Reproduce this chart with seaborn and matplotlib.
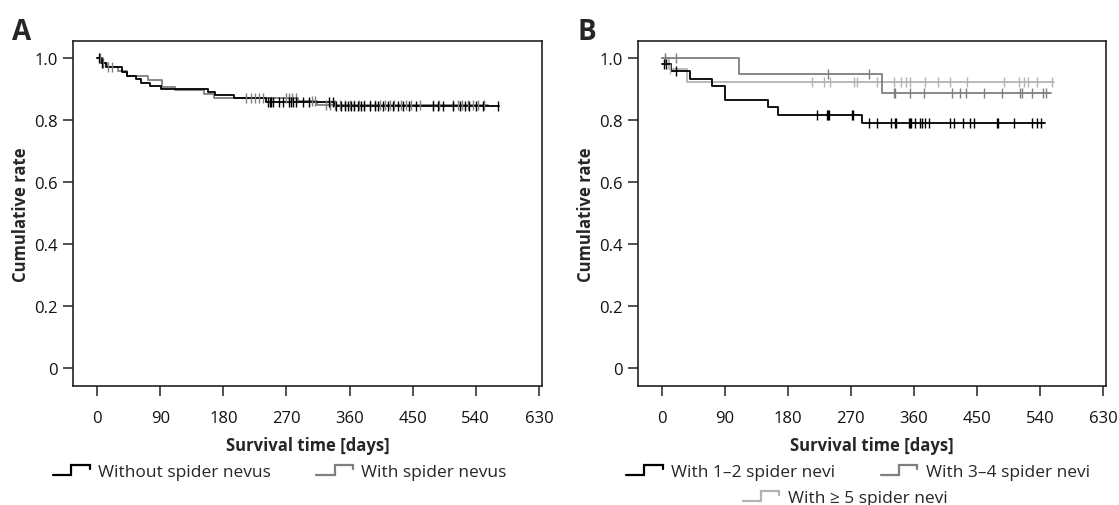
import numpy as np
import matplotlib
matplotlib.use("Agg")
import matplotlib.pyplot as plt
import seaborn as sns
from matplotlib.legend_handler import HandlerBase
from matplotlib.lines import Line2D

# ---------------- data ----------------
# Panel A
a_without_times = [0, 5, 12, 35, 43, 56, 63, 75, 91, 158, 168, 195, 241, 339]
a_without_surv = [1.0, 0.985, 0.971, 0.957, 0.943, 0.933, 0.922, 0.912, 0.900, 0.890, 0.882, 0.871, 0.860, 0.845]
a_without_end = 573
a_without_cens = [3, 7, 243, 246, 248, 251, 260, 265, 274, 277, 280, 284, 294, 302, 331,
                  336, 341, 348, 354, 358, 362, 367, 372, 377, 381, 389, 396, 400, 408, 415,
                  422, 429, 436, 445, 455, 479, 486, 493, 507, 517, 524, 531, 540, 550, 572]

a_with_times = [0, 8, 14, 30, 43, 73, 93, 111, 153, 167, 287, 313]
a_with_surv = [1.0, 0.985, 0.971, 0.960, 0.944, 0.930, 0.906, 0.899, 0.885, 0.873, 0.864, 0.849]
a_with_end = 557
a_with_cens = [4, 8, 16, 21, 213, 219, 225, 231, 236, 270, 274, 278, 283, 306, 310,
               327, 332, 339, 346, 353, 360, 367, 374, 381, 389, 396, 403, 410, 417, 424,
               434, 441, 448, 460, 479, 488, 507, 514, 521, 529, 536, 543, 552]

# Panel B
b_12_times = [0, 14, 41, 72, 90, 152, 166, 286]
b_12_surv = [0.982, 0.960, 0.933, 0.912, 0.865, 0.842, 0.818, 0.790]
b_12_end = 547
b_12_cens = [3, 7, 20, 222, 236, 238, 239, 272, 273, 296, 308, 327, 333, 334, 353, 354, 356,
             362, 369, 372, 376, 381, 411, 417, 430, 440, 446, 478, 480, 503, 528, 535, 541]

b_34_times = [0, 111, 314]
b_34_surv = [1.0, 0.949, 0.888]
b_34_end = 555
b_34_cens = [5, 20, 238, 296, 332, 333, 355, 374, 414, 426, 434, 460, 485, 511, 514, 529, 544, 549]

b_5_times = [0, 10, 36]
b_5_surv = [1.0, 0.965, 0.925]
b_5_end = 560
b_5_cens = [5, 12, 215, 232, 240, 274, 279, 308, 332, 341, 349, 355, 376, 395, 411, 436,
            489, 510, 517, 523, 536, 557]

x_ticks = [0, 90, 180, 270, 360, 450, 540, 630]
y_ticks = [0, 0.2, 0.4, 0.6, 0.8, 1.0]
y_tick_labels = ["0", "0.2", "0.4", "0.6", "0.8", "1.0"]

legend_a = ["Without spider nevus", "With spider nevus"]
legend_b = ["With 1\u20132 spider nevi", "With 3\u20134 spider nevi", "With \u2265 5 spider nevi"]

BLACK = "#000000"
GRAY = "#7f7f7f"
LIGHT = "#b3b3b3"

# ---------------- style ----------------
sns.set_style("ticks")
plt.rcParams["font.family"] = ["Open Sans", "DejaVu Sans"]
plt.rcParams["axes.edgecolor"] = "#222222"
plt.rcParams["axes.linewidth"] = 1.2
plt.rcParams["xtick.color"] = "#222222"
plt.rcParams["ytick.color"] = "#222222"
plt.rcParams["xtick.labelcolor"] = "#111111"
plt.rcParams["ytick.labelcolor"] = "#111111"

fig = plt.figure(figsize=(11.19, 5.06), dpi=100)
axA = fig.add_axes([0.0655, 0.2346, 0.4186, 0.6818])
axB = fig.add_axes([0.5699, 0.2346, 0.4185, 0.6818])


def draw_curve(ax, times, surv, end, cens, color):
    x = list(times) + [end]
    y = list(surv) + [surv[-1]]
    sns.lineplot(x=x, y=y, ax=ax, color=color, linewidth=1.3,
                 drawstyle="steps-post", estimator=None, sort=False)
    idx = np.searchsorted(np.asarray(times), np.asarray(cens), side="right") - 1
    cy = np.asarray(surv)[idx]
    sns.scatterplot(x=cens, y=cy, ax=ax, marker="|", s=45, color=color,
                    linewidth=1.0, zorder=3)


draw_curve(axA, a_with_times, a_with_surv, a_with_end, a_with_cens, GRAY)
draw_curve(axA, a_without_times, a_without_surv, a_without_end, a_without_cens, BLACK)

draw_curve(axB, b_5_times, b_5_surv, b_5_end, b_5_cens, LIGHT)
draw_curve(axB, b_34_times, b_34_surv, b_34_end, b_34_cens, GRAY)
draw_curve(axB, b_12_times, b_12_surv, b_12_end, b_12_cens, BLACK)

for ax in (axA, axB):
    ax.set_xlim(-34, 634)
    ax.set_ylim(-0.058, 1.055)
    ax.set_xticks(x_ticks)
    ax.set_xticklabels([str(t) for t in x_ticks])
    ax.set_yticks(y_ticks)
    ax.set_yticklabels(y_tick_labels)
    ax.tick_params(axis="x", direction="out", length=7, width=1.1, pad=10, labelsize=12)
    ax.tick_params(axis="y", direction="out", length=7, width=1.1, pad=4, labelsize=12)
    ax.set_xlabel("Survival time [days]", fontsize=12, fontweight="bold", labelpad=7)
    ax.set_ylabel("Cumulative rate", fontsize=12, fontweight="bold", labelpad=3)
    for sp in ax.spines.values():
        sp.set_visible(True)
    if ax.get_legend() is not None:
        ax.get_legend().remove()


class StepHandler(HandlerBase):
    def create_artists(self, legend, orig_handle, xdescent, ydescent, width, height, fontsize, trans):
        x0 = -xdescent
        y0 = -ydescent
        xs = [x0, x0 + 0.5 * width, x0 + 0.5 * width, x0 + width, x0 + width]
        ys = [y0 + 0.05 * height, y0 + 0.05 * height, y0 + 0.95 * height, y0 + 0.95 * height, y0 + 0.6 * height]
        ln = Line2D(xs, ys, color=orig_handle.get_color(), linewidth=orig_handle.get_linewidth(),
                    transform=trans, solid_joinstyle="miter")
        return [ln]


def handle(c):
    return Line2D([], [], color=c, linewidth=1.6)


leg_kw = dict(frameon=False, fontsize=12.5, handlelength=2.1, handleheight=0.6,
              handletextpad=0.5, borderpad=0.0, borderaxespad=0.0,
              handler_map={Line2D: StepHandler()})

fig.legend([handle(BLACK), handle(GRAY)], legend_a, loc="center", ncol=2,
           columnspacing=2.6, bbox_to_anchor=(280 / 1119, 1 - 473 / 506), **leg_kw)
fig.legend([handle(BLACK), handle(GRAY)], legend_b[:2], loc="center", ncol=2,
           columnspacing=2.6, bbox_to_anchor=(858 / 1119, 1 - 473 / 506), **leg_kw)
fig.legend([handle(LIGHT)], legend_b[2:], loc="center", ncol=1,
           bbox_to_anchor=(845 / 1119, 1 - 499 / 506), **leg_kw)

fig.text(12 / 1119, 1 - 39.5 / 506, "A", fontsize=20, fontweight="bold", ha="left", va="baseline")
fig.text(577 / 1119, 1 - 39.5 / 506, "B", fontsize=20, fontweight="bold", ha="left", va="baseline")

fig.savefig("out.png", dpi=100)
